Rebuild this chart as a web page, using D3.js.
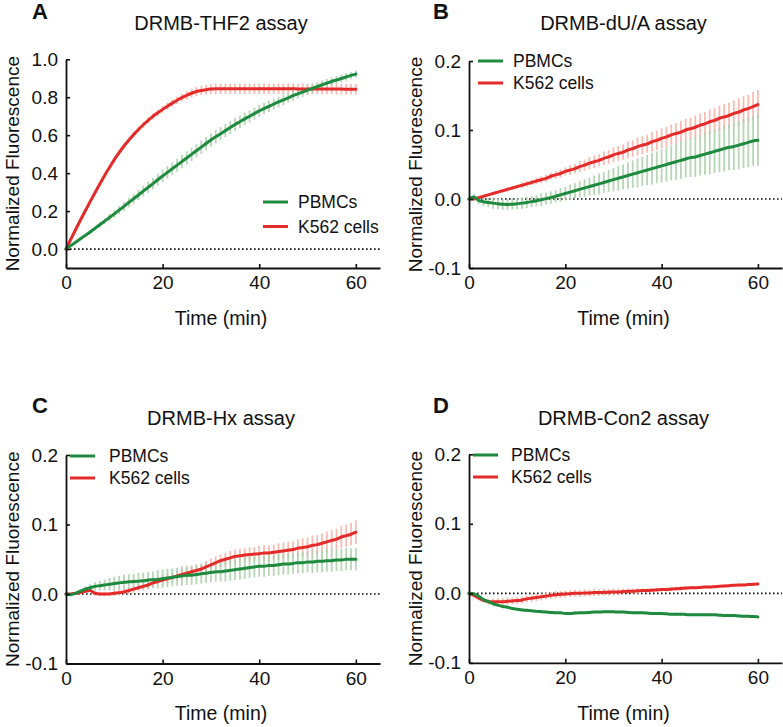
<!DOCTYPE html>
<html>
<head>
<meta charset="utf-8">
<script src="https://cdn.jsdelivr.net/npm/d3@7"></script>
<style>
  html, body { margin: 0; padding: 0; background: #fff; }
  svg { display: block; font-family: "Liberation Sans", Arial, Helvetica, sans-serif; }
</style>
</head>
<body>
<svg id="chart" width="783" height="727"></svg>
<script>
// ---------------- DATA ----------------
const timeMin = [0,1,2,3,4,5,6,7,8,9,10,11,12,13,14,15,16,17,18,19,20,21,22,23,24,25,26,27,28,29,30,
  31,32,33,34,35,36,37,38,39,40,41,42,43,44,45,46,47,48,49,50,51,52,53,54,55,56,57,58,59,60];

const seriesNames = ["PBMCs", "K562 cells"];
const panelLetters = ["A", "B", "C", "D"];
const panelTitles = ["DRMB-THF2 assay", "DRMB-dU/A assay", "DRMB-Hx assay", "DRMB-Con2 assay"];
const xTicks = [0, 20, 40, 60];
const xTickLabels = ["0", "20", "40", "60"];
const yTicksA = [0, 0.2, 0.4, 0.6, 0.8, 1.0];
const yTickLabelsA = ["0.0", "0.2", "0.4", "0.6", "0.8", "1.0"];
const yTicksBCD = [-0.1, 0, 0.1, 0.2];
const yTickLabelsBCD = ["-0.1", "0.0", "0.1", "0.2"];
const xAxisTitle = "Time (min)";
const yAxisTitle = "Normalized Fluorescence";

// Panel A: DRMB-THF2
const pbmcA = [0.000,0.018,0.036,0.054,0.072,0.090,0.109,0.128,0.147,0.166,0.185,0.205,0.225,0.245,0.265,0.285,
  0.305,0.325,0.345,0.365,0.385,0.404,0.423,0.442,0.461,0.480,0.499,0.518,0.537,0.556,0.575,0.592,0.608,0.624,
  0.640,0.656,0.671,0.686,0.700,0.714,0.728,0.740,0.752,0.764,0.775,0.786,0.797,0.808,0.818,0.828,0.838,0.847,
  0.856,0.865,0.874,0.883,0.891,0.899,0.907,0.915,0.922];
const pbmcSdA = [0.000,0.002,0.004,0.006,0.008,0.010,0.012,0.014,0.016,0.018,0.020,0.022,0.023,0.025,0.026,0.027,
  0.028,0.029,0.030,0.031,0.032,0.033,0.034,0.034,0.035,0.035,0.035,0.035,0.035,0.035,0.035,0.035,0.035,0.034,
  0.034,0.034,0.033,0.033,0.032,0.032,0.031,0.030,0.030,0.029,0.029,0.028,0.027,0.027,0.026,0.025,0.025,0.024,
  0.023,0.023,0.022,0.022,0.021,0.021,0.020,0.020,0.020];
const k562A = [0.000,0.052,0.103,0.153,0.202,0.250,0.297,0.343,0.388,0.430,0.471,0.508,0.543,0.574,0.603,0.630,
  0.655,0.678,0.699,0.718,0.736,0.753,0.769,0.784,0.798,0.810,0.821,0.830,0.836,0.840,0.843,0.845,0.845,0.845,
  0.845,0.845,0.845,0.845,0.845,0.845,0.845,0.845,0.845,0.845,0.845,0.845,0.845,0.845,0.844,0.844,0.844,0.844,
  0.844,0.844,0.843,0.843,0.843,0.843,0.842,0.842,0.842];
const k562SdA = [0.000,0.003,0.005,0.006,0.007,0.008,0.009,0.010,0.010,0.011,0.012,0.012,0.013,0.013,0.014,0.014,
  0.015,0.015,0.016,0.016,0.017,0.018,0.019,0.020,0.021,0.022,0.023,0.024,0.025,0.026,0.027,0.028,0.028,0.028,
  0.028,0.028,0.028,0.028,0.028,0.028,0.028,0.028,0.028,0.028,0.028,0.028,0.028,0.028,0.028,0.028,0.028,0.028,
  0.028,0.028,0.028,0.028,0.028,0.028,0.028,0.028,0.028];

// Panel B: DRMB-dU/A
const pbmcB = [0.000,0.003,-0.002,-0.004,-0.005,-0.006,-0.007,-0.0075,-0.0078,-0.0075,-0.007,-0.006,-0.005,-0.0038,
  -0.0025,-0.001,0.0005,0.002,0.004,0.006,0.008,0.010,0.012,0.014,0.016,0.018,0.020,0.022,0.024,0.026,0.028,
  0.030,0.032,0.034,0.036,0.038,0.040,0.042,0.044,0.046,0.048,0.050,0.052,0.054,0.056,0.058,0.060,0.061,0.063,
  0.065,0.067,0.069,0.071,0.073,0.075,0.076,0.078,0.080,0.082,0.084,0.085];
const pbmcSdB = [0.000,0.004,0.005,0.006,0.007,0.008,0.008,0.008,0.008,0.008,0.008,0.008,0.008,0.008,0.008,0.009,
  0.009,0.009,0.009,0.010,0.010,0.011,0.011,0.012,0.013,0.013,0.014,0.015,0.015,0.016,0.017,0.018,0.018,0.019,
  0.020,0.021,0.021,0.022,0.023,0.023,0.024,0.025,0.025,0.026,0.027,0.027,0.028,0.029,0.029,0.030,0.031,0.031,
  0.032,0.033,0.033,0.034,0.035,0.035,0.036,0.036,0.037];
const k562B = [0.000,0.000,0.002,0.004,0.006,0.008,0.010,0.012,0.014,0.016,0.018,0.020,0.022,0.024,0.026,0.028,
  0.030,0.033,0.035,0.037,0.040,0.042,0.044,0.047,0.049,0.052,0.054,0.056,0.059,0.061,0.064,0.066,0.068,0.071,
  0.073,0.076,0.078,0.080,0.083,0.085,0.088,0.090,0.093,0.095,0.097,0.100,0.102,0.104,0.107,0.109,0.112,0.114,
  0.117,0.119,0.121,0.124,0.126,0.129,0.131,0.134,0.137];
const k562SdB = [0.000,0.000,0.001,0.001,0.001,0.002,0.002,0.002,0.003,0.003,0.003,0.004,0.004,0.004,0.005,0.005,
  0.005,0.005,0.006,0.006,0.006,0.007,0.007,0.008,0.008,0.009,0.009,0.009,0.010,0.010,0.011,0.011,0.011,0.012,
  0.012,0.013,0.013,0.013,0.014,0.014,0.0145,0.015,0.015,0.015,0.016,0.016,0.016,0.017,0.017,0.017,0.018,0.018,
  0.018,0.019,0.019,0.019,0.020,0.020,0.020,0.021,0.021];

// Panel C: DRMB-Hx
const pbmcC = [0.000,-0.001,0.001,0.004,0.007,0.009,0.011,0.012,0.013,0.014,0.015,0.016,0.017,0.0175,0.018,0.0185,
  0.019,0.020,0.0205,0.021,0.022,0.023,0.024,0.025,0.026,0.027,0.027,0.028,0.029,0.030,0.031,0.032,0.032,0.033,
  0.034,0.035,0.036,0.037,0.038,0.039,0.040,0.040,0.041,0.041,0.042,0.043,0.043,0.044,0.045,0.045,0.046,0.046,
  0.047,0.047,0.048,0.048,0.049,0.049,0.050,0.050,0.050];
const pbmcSdC = [0.000,0.001,0.002,0.003,0.004,0.005,0.006,0.007,0.008,0.009,0.010,0.010,0.011,0.011,0.011,0.012,
  0.012,0.012,0.012,0.013,0.013,0.013,0.013,0.013,0.014,0.014,0.014,0.014,0.014,0.014,0.014,0.014,0.014,0.015,
  0.015,0.015,0.015,0.015,0.015,0.015,0.015,0.015,0.015,0.015,0.015,0.015,0.015,0.015,0.015,0.015,0.015,0.016,
  0.016,0.016,0.016,0.016,0.016,0.016,0.016,0.016,0.016];
const k562C = [0.000,0.000,0.001,0.002,0.004,0.005,0.001,0.000,0.000,0.000,0.001,0.002,0.003,0.005,0.007,0.009,
  0.011,0.013,0.016,0.018,0.020,0.022,0.024,0.026,0.028,0.030,0.032,0.034,0.036,0.039,0.042,0.045,0.048,0.050,
  0.052,0.054,0.055,0.056,0.057,0.0575,0.058,0.059,0.059,0.060,0.061,0.062,0.063,0.064,0.066,0.067,0.068,0.070,
  0.071,0.073,0.075,0.077,0.079,0.082,0.084,0.086,0.089];
const k562SdC = [0.000,0.001,0.001,0.002,0.002,0.002,0.003,0.003,0.003,0.003,0.004,0.004,0.004,0.005,0.005,0.005,
  0.006,0.006,0.006,0.006,0.007,0.007,0.007,0.007,0.008,0.008,0.008,0.008,0.008,0.009,0.009,0.009,0.009,0.009,
  0.010,0.010,0.010,0.010,0.010,0.010,0.011,0.011,0.011,0.011,0.012,0.012,0.012,0.012,0.013,0.013,0.013,0.014,
  0.014,0.014,0.015,0.015,0.015,0.016,0.016,0.016,0.017];

// Panel D: DRMB-Con2
const pbmcD = [0.000,-0.001,-0.004,-0.009,-0.012,-0.015,-0.017,-0.019,-0.020,-0.022,-0.023,-0.024,-0.0245,-0.025,
  -0.026,-0.0265,-0.027,-0.0275,-0.028,-0.028,-0.029,-0.029,-0.0285,-0.028,-0.028,-0.0275,-0.027,-0.027,-0.0265,
  -0.0265,-0.0265,-0.027,-0.027,-0.0275,-0.028,-0.028,-0.028,-0.0285,-0.029,-0.029,-0.029,-0.0295,-0.030,-0.030,
  -0.030,-0.0305,-0.031,-0.031,-0.031,-0.031,-0.031,-0.031,-0.0315,-0.032,-0.032,-0.032,-0.0325,-0.033,-0.033,
  -0.0335,-0.034];
const pbmcSdD = [0.000,0.001,0.001,0.002,0.002,0.002,0.002,0.002,0.002,0.002,0.002,0.002,0.002,0.002,0.002,0.002,
  0.002,0.002,0.002,0.002,0.002,0.002,0.002,0.002,0.002,0.002,0.002,0.002,0.002,0.002,0.002,0.002,0.002,0.002,
  0.002,0.002,0.002,0.002,0.002,0.002,0.002,0.002,0.002,0.002,0.002,0.002,0.002,0.002,0.002,0.002,0.002,0.002,
  0.002,0.002,0.002,0.002,0.002,0.002,0.002,0.002,0.002];
const k562D = [0.000,-0.003,-0.007,-0.010,-0.012,-0.012,-0.012,-0.012,-0.0115,-0.011,-0.0105,-0.0095,-0.008,-0.007,
  -0.006,-0.005,-0.004,-0.003,-0.002,-0.0015,-0.001,-0.0005,0.000,0.000,0.0005,0.0005,0.001,0.001,0.0015,0.0015,
  0.002,0.002,0.0025,0.003,0.003,0.0035,0.004,0.004,0.0045,0.005,0.0055,0.0055,0.006,0.0065,0.007,0.0075,0.008,
  0.008,0.0085,0.009,0.009,0.0095,0.010,0.0105,0.011,0.0115,0.012,0.012,0.0125,0.013,0.0135];
const k562SdD = [0.000,0.001,0.002,0.003,0.004,0.005,0.005,0.005,0.005,0.005,0.005,0.005,0.005,0.005,0.005,0.005,
  0.005,0.005,0.005,0.005,0.005,0.005,0.005,0.005,0.005,0.005,0.005,0.005,0.005,0.005,0.005,0.005,0.004,0.004,
  0.004,0.004,0.003,0.003,0.003,0.003,0.003,0.003,0.003,0.003,0.003,0.003,0.002,0.002,0.002,0.002,0.002,0.002,
  0.002,0.002,0.002,0.002,0.002,0.002,0.002,0.002,0.002];

// ---------------- STYLE / LAYOUT ----------------
const colors = { pbmc: "#1e8a3e", k562: "#e52a2a", pbmcBar: "#a9cfa9", k562Bar: "#f6b2a6" };

const panels = [
  { letter: panelLetters[0], title: panelTitles[0], x0: 66, x1: 380, yTop: 59.3, yBot: 268, yDom: [-0.1, 1.0],
    yTicks: yTicksA, yLabels: yTickLabelsA, pbmc: pbmcA, pbmcSd: pbmcSdA, k562: k562A, k562Sd: k562SdA,
    letterPos: [32, 18.5], titleY: 30, xLabY: 325, legX: 263, legY: 202, legGap: 24.5, legTextX: 298 },
  { letter: panelLetters[1], title: panelTitles[1], x0: 469, x1: 782, yTop: 61, yBot: 268, yDom: [-0.1, 0.2],
    yTicks: yTicksBCD, yLabels: yTickLabelsBCD, pbmc: pbmcB, pbmcSd: pbmcSdB, k562: k562B, k562Sd: k562SdB,
    letterPos: [433, 18.5], titleY: 30, xLabY: 325, legX: 478, legY: 61, legGap: 22, legTextX: 513 },
  { letter: panelLetters[2], title: panelTitles[2], x0: 66, x1: 380, yTop: 455, yBot: 663.5, yDom: [-0.1, 0.2],
    yTicks: yTicksBCD, yLabels: yTickLabelsBCD, pbmc: pbmcC, pbmcSd: pbmcSdC, k562: k562C, k562Sd: k562SdC,
    letterPos: [32, 412.5], titleY: 425, xLabY: 720, legX: 70, legY: 456, legGap: 22, legTextX: 109 },
  { letter: panelLetters[3], title: panelTitles[3], x0: 469, x1: 782, yTop: 454.3, yBot: 662.8, yDom: [-0.1, 0.2],
    yTicks: yTicksBCD, yLabels: yTickLabelsBCD, pbmc: pbmcD, pbmcSd: pbmcSdD, k562: k562D, k562Sd: k562SdD,
    letterPos: [433, 412.5], titleY: 425, xLabY: 720, legX: 473, legY: 455, legGap: 22, legTextX: 511 }
];

const svg = d3.select("#chart");

panels.forEach(p => {
  const g = svg.append("g");
  const x = d3.scaleLinear().domain([0, 65]).range([p.x0, p.x1]);
  const y = d3.scaleLinear().domain(p.yDom).range([p.yBot, p.yTop]);

  // panel letter
  g.append("text").attr("x", p.letterPos[0]).attr("y", p.letterPos[1])
    .attr("font-size", 22).attr("font-weight", "bold").attr("fill", "#111").text(p.letter);
  // title
  g.append("text").attr("x", (p.x0 + p.x1) / 2 - 2).attr("y", p.titleY)
    .attr("text-anchor", "middle").attr("font-size", 20).attr("fill", "#111").text(p.title);

  // zero dotted line
  g.append("line").attr("x1", x(0)).attr("x2", x(65)).attr("y1", y(0)).attr("y2", y(0))
    .attr("stroke", "#111").attr("stroke-width", 1.7).attr("stroke-dasharray", "1.6,2.4");

  // error bars
  const series = [
    { v: p.k562, sd: p.k562Sd, bar: colors.k562Bar, line: colors.k562 },
    { v: p.pbmc, sd: p.pbmcSd, bar: colors.pbmcBar, line: colors.pbmc }
  ];
  series.forEach(s => {
    g.append("g").selectAll("line").data(timeMin).join("line")
      .attr("x1", (t) => x(t)).attr("x2", (t) => x(t))
      .attr("y1", (t, i) => y(s.v[i] - s.sd[i])).attr("y2", (t, i) => y(s.v[i] + s.sd[i]))
      .attr("stroke", s.bar).attr("stroke-width", 1.8).attr("stroke-opacity", 0.85);
  });
  // lines
  series.forEach(s => {
    const lineGen = d3.line().x((t) => x(t)).y((t, i) => y(s.v[i])).curve(d3.curveMonotoneX);
    g.append("path").datum(timeMin).attr("d", lineGen)
      .attr("fill", "none").attr("stroke", s.line).attr("stroke-width", 3)
      .attr("stroke-linejoin", "round").attr("stroke-linecap", "round");
  });

  // axes
  const xAxis = d3.axisBottom(x).tickValues(xTicks).tickFormat((d, i) => xTickLabels[i])
    .tickSizeInner(-4).tickSizeOuter(0).tickPadding(6);
  const gx = g.append("g").attr("transform", `translate(0,${p.yBot})`).call(xAxis);
  gx.select(".domain").attr("stroke", "#111").attr("stroke-width", 1.8);
  gx.selectAll(".tick line").attr("stroke", "#111").attr("stroke-width", 1.6);
  gx.selectAll(".tick text").attr("font-size", 19).attr("font-family", null).attr("fill", "#111")
    .attr("dy", null).attr("y", 21).attr("dominant-baseline", "auto");

  const yAxis = d3.axisLeft(y).tickValues(p.yTicks).tickFormat((d, i) => p.yLabels[i])
    .tickSizeInner(-4).tickSizeOuter(0).tickPadding(8);
  const gy = g.append("g").attr("transform", `translate(${p.x0},0)`).call(yAxis);
  gy.select(".domain").attr("stroke", "#111").attr("stroke-width", 1.8);
  gy.selectAll(".tick line").attr("stroke", "#111").attr("stroke-width", 1.6);
  gy.selectAll(".tick text").attr("font-size", 19).attr("font-family", null).attr("fill", "#111");

  // axis titles
  g.append("text").attr("x", (p.x0 + p.x1) / 2 - 2).attr("y", p.xLabY)
    .attr("text-anchor", "middle").attr("font-size", 19.5).attr("fill", "#111").text(xAxisTitle);
  const yl = p.x0 - 47;
  g.append("text").attr("transform", `translate(${yl},${(p.yTop + p.yBot) / 2}) rotate(-90)`)
    .attr("text-anchor", "middle").attr("font-size", 19).attr("fill", "#111").text(yAxisTitle);

  // legend
  const legItems = [
    { name: seriesNames[0], color: colors.pbmc },
    { name: seriesNames[1], color: colors.k562 }
  ];
  legItems.forEach((it, i) => {
    const ly = p.legY + i * p.legGap;
    g.append("line").attr("x1", p.legX).attr("x2", p.legX + 25).attr("y1", ly).attr("y2", ly)
      .attr("stroke", it.color).attr("stroke-width", 3);
    g.append("text").attr("x", p.legTextX).attr("y", ly).attr("dy", "0.36em")
      .attr("font-size", 17.5).attr("fill", "#111").text(it.name);
  });
});
</script>
</body>
</html>
